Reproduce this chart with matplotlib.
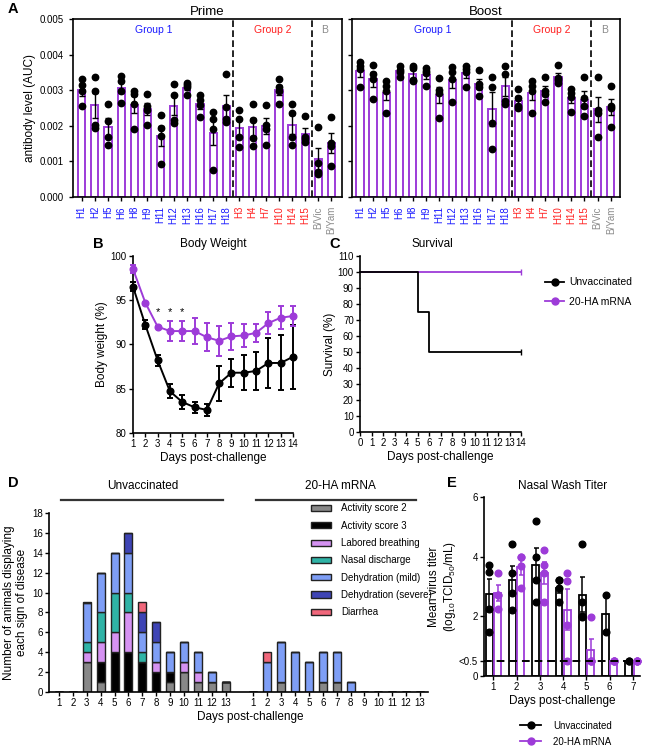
import numpy as np
import matplotlib
matplotlib.use("Agg")
import matplotlib.pyplot as plt
from matplotlib.patches import Patch
from matplotlib.lines import Line2D

plt.rcParams['font.family'] = ['Liberation Sans', 'DejaVu Sans']
plt.rcParams['mathtext.default'] = 'regular'
plt.rcParams['axes.linewidth'] = 1.2
plt.rcParams['xtick.major.width'] = 1.0
plt.rcParams['ytick.major.width'] = 1.0
plt.rcParams['xtick.major.size'] = 3
plt.rcParams['ytick.major.size'] = 3

PURPLE = '#9D3BD8'

# ---------------- data ----------------
# Panel A: HA antigens and antibody AUC (x1e-3), 4 animals each
ha_labels = ['H1', 'H2', 'H5', 'H6', 'H8', 'H9', 'H11', 'H12', 'H13', 'H16', 'H17', 'H18',
             'H3', 'H4', 'H7', 'H10', 'H14', 'H15', 'B/Vic', 'B/Yam']
ha_colors = ['#1a1aff'] * 12 + ['#ff2020'] * 6 + ['#8c8c8c'] * 2
prime_pts = [
    [3.32, 3.15, 2.97, 2.57], [3.37, 2.97, 2.02, 1.95], [2.62, 2.13, 1.68, 1.45],
    [3.40, 3.27, 2.98, 2.65], [2.98, 2.90, 2.60, 1.90], [2.88, 2.55, 2.45, 2.02],
    [2.30, 1.94, 1.70, 0.92], [3.18, 2.86, 2.15, 2.07], [3.20, 3.14, 3.08, 2.87],
    [2.86, 2.72, 2.58, 2.26], [2.39, 2.18, 1.90, 0.77], [3.45, 2.52, 2.20, 2.10],
    [2.43, 2.20, 1.69, 1.41], [2.62, 2.15, 1.67, 1.43], [2.58, 2.02, 1.92, 1.47],
    [3.31, 3.10, 2.98, 2.61], [2.60, 2.36, 1.69, 1.47], [2.27, 1.69, 1.62, 1.55],
    [1.97, 0.95, 0.70, 0.66], [2.24, 1.53, 1.43, 0.87],
]
boost_pts = [
    [3.78, 3.69, 3.60, 3.08], [3.70, 3.45, 3.31, 2.75], [3.26, 3.11, 2.98, 2.36],
    [3.68, 3.58, 3.50, 3.38], [3.68, 3.62, 3.30, 3.25], [3.61, 3.54, 3.47, 3.11],
    [3.33, 3.00, 2.91, 2.23], [3.66, 3.52, 3.31, 2.67], [3.68, 3.60, 3.50, 3.10],
    [3.56, 3.17, 3.10, 2.85], [3.36, 3.10, 2.09, 1.34], [3.69, 3.45, 2.70, 2.60],
    [3.02, 2.77, 2.55, 2.49], [3.26, 3.11, 2.98, 2.37], [3.36, 2.98, 2.89, 2.67],
    [3.70, 3.35, 3.28, 3.20], [3.02, 2.93, 2.81, 2.39], [3.36, 2.77, 2.55, 2.27],
    [3.38, 2.44, 2.35, 1.69], [3.11, 2.55, 2.49, 1.97],
]
group_names = ['Group 1', 'Group 2', 'B']
group_centers = [5.5, 14.5, 18.5]
group_colors = ['#1a1aff', '#ff2020', '#8c8c8c']

# Panel B: body weight (% of start), mean and SEM
bw_days = np.arange(1, 15)
bw_unvac = [96.5, 92.2, 88.2, 84.7, 83.5, 82.9, 82.6, 85.6, 86.8, 86.8, 87.0, 87.9, 87.9, 88.6]
bw_unvac_err = [0.5, 0.5, 0.6, 0.8, 0.8, 0.6, 0.7, 2.0, 1.6, 2.0, 2.1, 2.8, 3.1, 3.6]
bw_vacc = [98.5, 94.7, 92.0, 91.5, 91.5, 91.5, 90.8, 90.4, 90.9, 91.0, 91.3, 92.4, 93.0, 93.2]
bw_vacc_err = [0.4, 0.1, 0.1, 1.1, 1.1, 1.5, 1.6, 1.7, 1.5, 1.3, 1.0, 1.2, 1.3, 1.1]
sig_days = [3, 4, 5]

# Panel C: Kaplan-Meier survival
surv_t_unvac = [0, 5, 6, 14]
surv_unvac = [100, 75, 50, 50]
surv_t_vacc = [0, 14]
surv_vacc = [100, 100]

# Panel D: clinical signs per day (counts)
signs = ['Activity score 2', 'Activity score 3', 'Labored breathing', 'Nasal discharge',
         'Dehydration (mild)', 'Dehydration (severe)', 'Diarrhea']
sign_colors = ['#888888', '#000000', '#D592F2', '#2FB3A6', '#7E9EF6', '#3E44B5', '#F0677B']
disease_days = list(range(1, 14))
unvac_signs = [  # rows = signs, columns = days 1..13
    [0, 0, 3, 1, 0, 0, 0, 0, 1, 2, 1, 1, 1],
    [0, 0, 0, 2, 4, 4, 3, 2, 1, 0, 0, 0, 0],
    [0, 0, 1, 2, 2, 4, 0, 1, 0, 1, 1, 0, 0],
    [0, 0, 1, 3, 4, 2, 1, 0, 0, 0, 0, 0, 0],
    [0, 0, 4, 4, 4, 4, 2, 2, 2, 2, 2, 1, 0],
    [0, 0, 0, 0, 0, 2, 2, 2, 0, 0, 0, 0, 0],
    [0, 0, 0, 0, 0, 0, 1, 0, 0, 0, 0, 0, 0],
]
vacc_signs = [
    [0, 0, 1, 0, 0, 1, 1, 0, 0, 0, 0, 0, 0],
    [0, 0, 0, 0, 0, 0, 0, 0, 0, 0, 0, 0, 0],
    [0, 0, 0, 0, 0, 0, 0, 0, 0, 0, 0, 0, 0],
    [0, 0, 0, 0, 0, 0, 0, 0, 0, 0, 0, 0, 0],
    [0, 3, 4, 4, 3, 3, 3, 1, 0, 0, 0, 0, 0],
    [0, 0, 0, 0, 0, 0, 0, 0, 0, 0, 0, 0, 0],
    [0, 1, 0, 0, 0, 0, 0, 0, 0, 0, 0, 0, 0],
]

# Panel E: nasal wash titers (log10 TCID50/mL), individual animals
titer_days = [1, 2, 3, 4, 5, 6, 7]
titer_unvac = [
    [3.72, 3.50, 2.25, 1.48], [4.44, 3.47, 2.78, 2.22], [5.20, 4.00, 3.22, 2.47],
    [3.22, 3.22, 2.97, 2.47], [4.44, 2.50, 2.00, 1.97], [2.72, 1.47], [0.5, 0.5],
]
titer_vacc = [
    [3.47, 2.72, 2.72, 2.24], [3.98, 3.98, 3.69, 2.94], [4.22, 3.72, 3.47, 2.47],
    [3.47, 3.20, 1.71, 0.5], [1.97, 0.5, 0.5, 0.5], [0.5, 0.5, 0.5, 0.5], [0.5, 0.5, 0.5, 0.5],
]
lod = 0.5


def mean_sem(pts):
    a = np.asarray(pts, dtype=float)
    if len(a) < 2:
        return a.mean(), 0.0
    return a.mean(), a.std(ddof=1) / np.sqrt(len(a))


fig = plt.figure(figsize=(6.46, 7.5), dpi=100)

def px_axes(x0, y0, x1, y1):
    # pixel box (from top-left) to figure axes
    W, H = 646.0, 750.0
    return fig.add_axes([x0 / W, 1 - y1 / H, (x1 - x0) / W, (y1 - y0) / H])

# ---------------- Panel A ----------------
for (x0, x1, pts_list, title, xl, show_ylab) in [
        (73, 342, prime_pts, 'Prime', (-0.66, 19.8), True),
        (352, 620, boost_pts, 'Boost', (-0.6, 19.7), False)]:
    ax = px_axes(x0, 19, x1, 197)
    xs = np.arange(len(ha_labels))
    stats = [mean_sem(p) for p in pts_list]
    means = np.array([s[0] for s in stats]) * 1e-3
    sems = np.array([s[1] for s in stats]) * 1e-3
    ax.bar(xs, means, width=0.55, facecolor='white', edgecolor=PURPLE, linewidth=1.4, zorder=2)
    ax.errorbar(xs, means, yerr=sems, fmt='none', ecolor='black', elinewidth=1.0,
                capsize=2, capthick=1.0, zorder=3)
    for i, p in enumerate(pts_list):
        ax.plot([i] * len(p), np.array(p) * 1e-3, 'o', color='black', ms=4.6, zorder=4, clip_on=False)
    ax.axvline(11.5, color='black', ls=(0, (4, 2)), lw=1.2)
    ax.axvline(17.5, color='black', ls=(0, (4, 2)), lw=1.2)
    for name, c, col in zip(group_names, group_centers, group_colors):
        ax.text(c, 0.0047, name, color=col, ha='center', va='center', fontsize=7.5)
    ax.set_xlim(*xl)
    ax.set_ylim(0, 0.005)
    ax.set_yticks(np.arange(0, 0.0051, 0.001))
    ax.set_xticks(xs)
    ax.set_xticklabels(ha_labels, rotation=90, fontsize=7)
    for lab, col in zip(ax.get_xticklabels(), ha_colors):
        lab.set_color(col)
    if show_ylab:
        ax.set_yticklabels(['%.3f' % v for v in np.arange(0, 0.0051, 0.001)], fontsize=7)
        ax.set_ylabel('antibody level (AUC)', fontsize=8.5, labelpad=3)
    else:
        ax.set_yticklabels([])
    ax.set_title(title, fontsize=9.5, pad=3)
fig.text(8 / 646, 1 - 9 / 750, 'A', fontsize=10.5, fontweight='bold', va='center')

# ---------------- Panel B ----------------
axb = px_axes(133, 255.7, 293, 433)
axb.errorbar(bw_days, bw_unvac, yerr=bw_unvac_err, color='black', marker='o', ms=4.8,
             lw=1.4, elinewidth=1.4, capsize=2.5, capthick=1.4, clip_on=False, zorder=3)
axb.errorbar(bw_days, bw_vacc, yerr=bw_vacc_err, color=PURPLE, marker='o', ms=4.8,
             lw=1.4, elinewidth=1.4, capsize=2.5, capthick=1.4, clip_on=False, zorder=3)
for d in sig_days:
    axb.text(d, 93.6, '*', ha='center', va='center', fontsize=8)
axb.set_xlim(1, 14)
axb.set_ylim(80, 100)
axb.set_xticks(bw_days)
axb.set_yticks([80, 85, 90, 95, 100])
axb.tick_params(labelsize=7, pad=1.5)
axb.spines[['top', 'right']].set_visible(False)
axb.set_xlabel('Days post-challenge', fontsize=8.5, labelpad=2)
axb.set_ylabel('Body weight (%)', fontsize=8.5, labelpad=2)
axb.set_title('Body Weight', fontsize=8.5, pad=6)
fig.text(93 / 646, 1 - 244 / 750, 'B', fontsize=10.5, fontweight='bold', va='center')

# ---------------- Panel C ----------------
axc = px_axes(360, 255.7, 521, 432)
axc.plot(surv_t_vacc, surv_vacc, drawstyle='steps-post', color=PURPLE, lw=1.3, clip_on=False)
axc.plot(surv_t_unvac, surv_unvac, drawstyle='steps-post', color='black', lw=1.3, clip_on=False)
axc.plot([surv_t_vacc[-1]], [surv_vacc[-1]], marker='|', color=PURPLE, ms=4, clip_on=False)
axc.plot([surv_t_unvac[-1]], [surv_unvac[-1]], marker='|', color='black', ms=4, clip_on=False)
axc.set_xlim(0, 14)
axc.set_ylim(0, 110)
axc.set_xticks(range(0, 15))
axc.set_yticks(range(0, 111, 10))
axc.tick_params(labelsize=7, pad=1.5)
axc.spines[['top', 'right']].set_visible(False)
axc.set_xlabel('Days post-challenge', fontsize=8.5, labelpad=2)
axc.set_ylabel('Survival (%)', fontsize=8.5, labelpad=1)
axc.set_title('Survival', fontsize=8.5, pad=6, x=0.45)
fig.text(329 / 646, 1 - 244 / 750, 'C', fontsize=10.5, fontweight='bold', va='center')
leg_handles = [Line2D([0], [0], color='black', marker='o', ms=5, lw=1.3),
               Line2D([0], [0], color=PURPLE, marker='o', ms=5, lw=1.3)]
fig.legend(leg_handles, ['Unvaccinated', '20-HA mRNA'], loc='upper left',
           bbox_to_anchor=(540 / 646, 1 - 272 / 750), frameon=False, fontsize=7.5,
           handlelength=1.8, handletextpad=0.5, labelspacing=0.9, borderpad=0)

# ---------------- Panel D ----------------
axd = px_axes(49.3, 513.3, 428.3, 691.7)
pos_unvac = np.array(disease_days)
pos_vacc = np.array(disease_days) + 14
for pos, table in [(pos_unvac, unvac_signs), (pos_vacc, vacc_signs)]:
    bottom = np.zeros(len(pos))
    for row, col in zip(table, sign_colors):
        vals = np.array(row, dtype=float)
        axd.bar(pos, vals, bottom=bottom, width=0.58, color=col, edgecolor='#222222',
                linewidth=1.0, zorder=2)
        bottom += vals
axd.set_xlim(0.3, 27.6)
axd.set_ylim(0, 18)
axd.set_yticks(range(0, 19, 2))
axd.set_xticks(np.concatenate([pos_unvac, pos_vacc]))
axd.set_xticklabels([str(d) for d in disease_days] * 2)
axd.tick_params(labelsize=7, pad=1.5)
axd.spines[['top', 'right']].set_visible(False)
axd.set_xlabel('Days post-challenge', fontsize=8.5, labelpad=2, x=0.53)
axd.set_ylabel('Number of animals displaying\neach sign of disease', fontsize=8.5,
               labelpad=3, linespacing=1.1)
trans = axd.get_xaxis_transform()
axd.plot([1.17, 12.8], [1.075, 1.075], color='#333333', lw=1.6, transform=trans, clip_on=False)
axd.plot([15.2, 26.75], [1.075, 1.075], color='#333333', lw=1.6, transform=trans, clip_on=False)
axd.text(7.0, 1.155, 'Unvaccinated', ha='center', va='center', fontsize=8.5, transform=trans)
axd.text(21.3, 1.155, '20-HA mRNA', ha='center', va='center', fontsize=8.5, transform=trans)
d_handles = [Patch(facecolor=c, edgecolor='#222222', linewidth=1.0) for c in sign_colors]
axd.legend(d_handles, signs, loc='upper left', bbox_to_anchor=(0.69, 1.055), frameon=False,
           fontsize=7, handlelength=2.1, handleheight=0.6, handletextpad=1.0,
           labelspacing=0.75, borderpad=0, borderaxespad=0)
fig.text(8 / 646, 1 - 483 / 750, 'D', fontsize=10.5, fontweight='bold', va='center')

# ---------------- Panel E ----------------
axe = px_axes(484.3, 497.3, 640, 676)
off = 0.18
for pts_list, col, sign in [(titer_unvac, 'black', -1), (titer_vacc, PURPLE, 1)]:
    xs = np.array(titer_days) + sign * off
    stats = [mean_sem(p) for p in pts_list]
    means = np.array([s[0] for s in stats])
    sems = np.array([s[1] for s in stats])
    axe.bar(xs, means, width=0.3, facecolor='white', edgecolor=col, linewidth=1.3, zorder=2)
    axe.errorbar(xs, means, yerr=sems, fmt='none', ecolor=col, elinewidth=1.1,
                 capsize=1.8, capthick=1.1, zorder=3)
    for x, p in zip(xs, pts_list):
        axe.plot([x] * len(p), p, 'o', color=col, ms=4.8, zorder=4, clip_on=False)
axe.axhline(lod, color='black', ls=(0, (4, 2.5)), lw=1.4, zorder=5)
axe.set_xlim(0.61, 7.3)
axe.set_ylim(0, 6)
axe.set_xticks(titer_days)
axe.set_yticks([0, lod, 2, 4, 6])
axe.set_yticklabels(['0', '<0.5', '2', '4', '6'])
axe.tick_params(labelsize=7, pad=1.5)
axe.spines[['top', 'right']].set_visible(False)
axe.set_xlabel('Days post-challenge', fontsize=8.5, labelpad=2)
axe.set_ylabel('Mean virus titer\n(log$_{10}$TCID$_{50}$/mL)', fontsize=8.5, labelpad=1,
               linespacing=1.1)
axe.set_title('Nasal Wash Titer', fontsize=8.5, pad=6)
fig.text(447 / 646, 1 - 483 / 750, 'E', fontsize=10.5, fontweight='bold', va='center')
e_handles = [Line2D([0], [0], color='black', marker='o', ms=5, lw=1.3),
             Line2D([0], [0], color=PURPLE, marker='o', ms=5, lw=1.3)]
fig.legend(e_handles, ['Unvaccinated', '20-HA mRNA'], loc='upper left',
           bbox_to_anchor=(515 / 646, 1 - 716 / 750), frameon=False, fontsize=7,
           handlelength=2.2, handletextpad=1.2, labelspacing=0.6, borderpad=0)

fig.savefig('out.png', dpi=100)
